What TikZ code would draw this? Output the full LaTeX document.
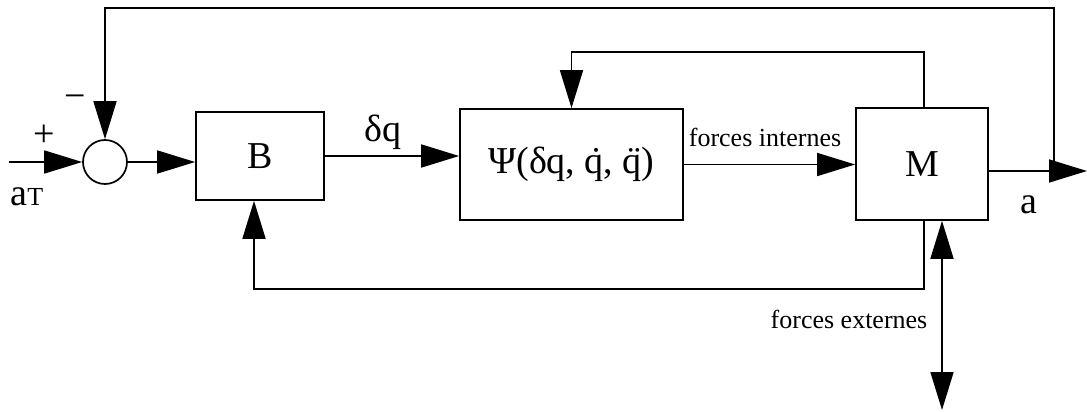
\documentclass[tikz,border=0pt]{standalone}
\usepackage{fontspec}
\setmainfont{Liberation Serif}
\usetikzlibrary{arrows.meta}

\begin{document}
\begin{tikzpicture}[
  x=1pt, y=-1pt,
  font=\fontsize{38}{40}\selectfont,
  blk/.style={draw, line width=1.7pt, inner sep=0pt},
  sum/.style={draw, circle, line width=1.7pt, minimum size=44pt, inner sep=0pt},
  arr/.style={-{Triangle[length=38pt,width=23pt]}, line width=1.7pt},
  darr/.style={{Triangle[length=38pt,width=23pt]}-{Triangle[length=38pt,width=23pt]}, line width=1.7pt},
  small/.style={font=\fontsize{26}{28}\selectfont}
]
\useasboundingbox (0,0) rectangle (1087,412);

% --- blocks ---
\node[sum] (sum) at (105,162) {};
\node[blk, minimum width=128pt, minimum height=88pt] (B) at (260,156) {B};
\node[blk, minimum width=223pt, minimum height=111pt] (psi) at (571.5,164.5) {Ψ(δq, \.{q}, \"{q})};
\node[blk, minimum width=132pt, minimum height=112pt] (M) at (922,164) {M};

% --- free ends and bends ---
\coordinate (in)  at (9,162);
\coordinate (out) at (1087,171);
\coordinate (ext) at (942,410);
\coordinate (fb1) at (1054,8);
\coordinate (fb2) at (924,52);
\coordinate (fb3) at (924,289);

% --- labels ---
\node (plus)  at (44,136)  {+};
\node (minus) at (75,102)  {−};
\node (aT)    at (27,197)  {a{\fontsize{26}{28}\selectfont T}};
\node (dq)    at (383,132) {δq};
\node[small] (fint) at (765,137) {forces internes};
\node (a)     at (1029,205) {a};
\node[small] (fext) at (849,319) {forces externes};

% --- forward path ---
\draw[arr] (in) -- (sum.west);
\draw[arr] (sum.east) -- (sum.east -| B.west);
\draw[arr] (B.east) -- (B.east -| psi.west);
\draw[arr] (psi.east) -- (psi.east -| M.west);
\draw[arr] ([yshift=-7pt]M.east) -- (out);

% --- feedback loops ---
\draw[arr] (fb1 |- out) -- (fb1) -| (sum.north);
\draw[arr] (fb2 |- M.north) -- (fb2) -| (psi.north);
\draw[arr] (fb3 |- M.south) -- (fb3) -| ([xshift=-6pt]B.south);

% external forces
\draw[darr] (M.south -| ext) -- (ext);
\end{tikzpicture}
\end{document}
